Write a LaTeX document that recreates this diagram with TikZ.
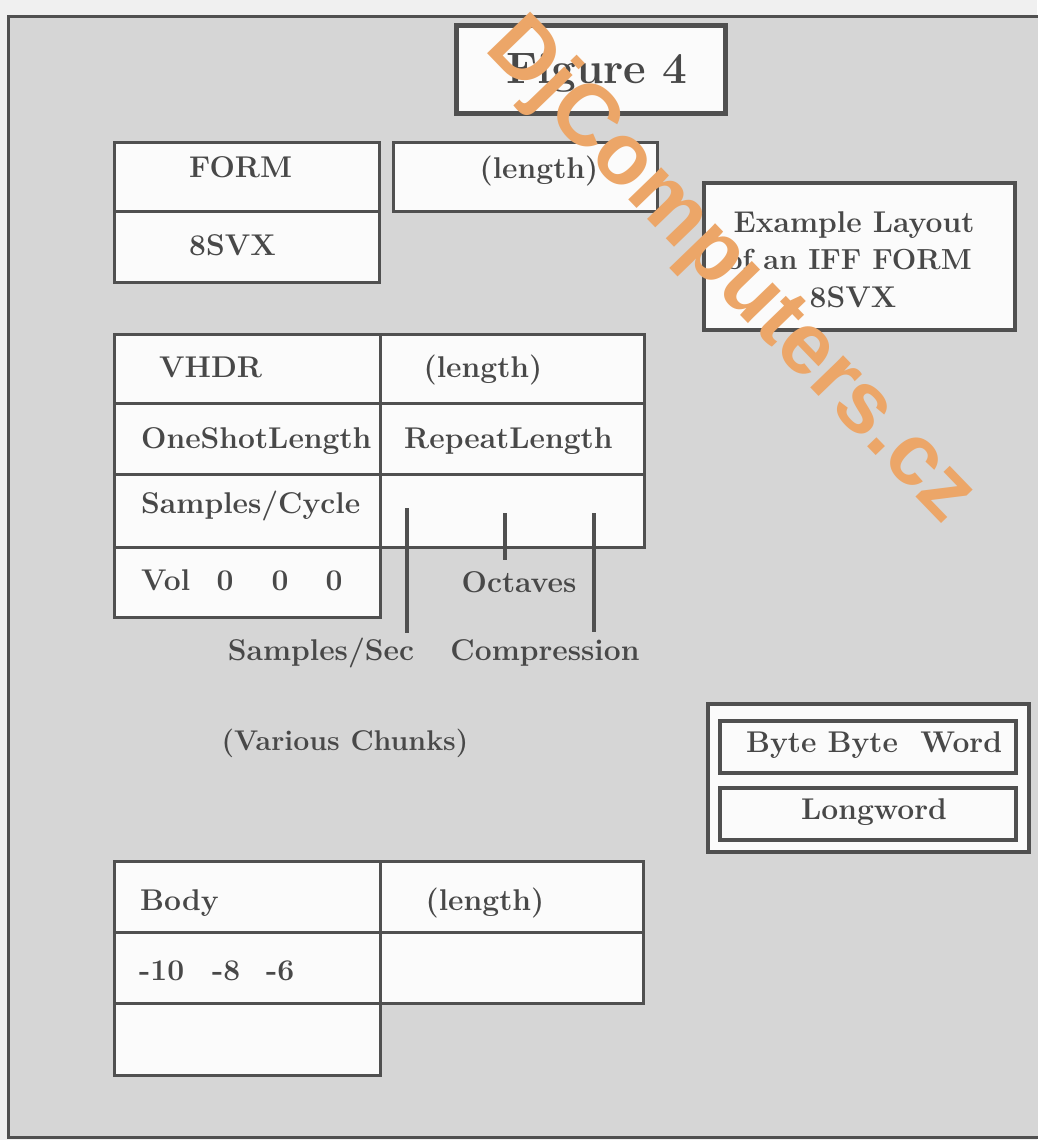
\documentclass[tikz,border=0pt]{standalone}
\usepackage{fontspec}
\newfontfamily\wmfont{Liberation Sans}
\definecolor{bgpage}{RGB}{240,240,240}
\definecolor{bgfig}{RGB}{214,214,214}
\definecolor{boxfill}{RGB}{251,251,251}
\definecolor{ink}{RGB}{72,72,72}
\definecolor{linec}{RGB}{80,80,80}
\definecolor{wmark}{RGB}{236,166,104}
\tikzset{
  cell/.style={fill=boxfill, draw=linec, line width=3pt},
  lbl/.style={inner sep=0pt, text=ink, font=\fontsize{30}{36}\selectfont\bfseries, text height=20pt, text depth=0pt},
  bigl/.style={inner sep=0pt, text=ink, font=\fontsize{44}{50}\selectfont\bfseries, text height=30pt, text depth=0pt},
  tick/.style={draw=linec, line width=4pt},
}
\begin{document}
\begin{tikzpicture}[x=1pt,y=-1pt]
\useasboundingbox (0,0) rectangle (1037,1140);
\fill[bgpage] (0,0) rectangle (1037,1140);
\fill[bgfig] (8,17) rectangle (1040,1137);
\draw[linec, line width=3pt] (1040,17) -- (8,17) -- (8,1137) -- (1040,1137);

% Figure 4 title box
\draw[fill=boxfill, draw=linec, line width=5pt] (456,26) rectangle (725,113);
\node[bigl] (title) at (597,68) {Figure 4};

% FORM / 8SVX
\draw[cell] (114,142) rectangle (379,211);
\draw[cell] (114,211) rectangle (379,282);
\draw[cell] (393,142) rectangle (657,211);
\node[lbl, anchor=west] (form) at (189,167) {FORM};
\node[lbl, anchor=west] (svx) at (189,245) {8SVX};
\node[lbl] (len1) at (539,168) {(length)};

% Example box
\draw[fill=boxfill, draw=linec, line width=4pt] (704,183) rectangle (1015,330);
\node[lbl] (ex1) at (854,222) {Example Layout};
\node[lbl, font=\fontsize{29}{34}\selectfont\bfseries] (ex2) at (849,259) {of an IFF FORM};
\node[lbl] (ex3) at (853,297) {8SVX};

% VHDR table
\draw[cell] (114,334) rectangle (380,403);
\draw[cell] (380,334) rectangle (644,403);
\draw[cell] (114,403) rectangle (380,474);
\draw[cell] (380,403) rectangle (644,474);
\draw[cell] (114,474) rectangle (380,547);
\draw[cell] (380,474) rectangle (644,547);
\draw[cell] (114,547) rectangle (380,617);
\node[lbl, anchor=west] (vhdr) at (159,367) {VHDR};
\node[lbl] (len2) at (483,367) {(length)};
\node[lbl, anchor=west] (osl) at (141,438) {OneShotLength};
\node[lbl, anchor=west] (rpl) at (404,438) {RepeatLength};
\node[lbl, anchor=west] (spc) at (141,503) {Samples/Cycle};
\node[lbl, anchor=west] (vol) at (141,580) {Vol};
\node[lbl] (z1) at (225,580) {0};
\node[lbl] (z2) at (280,580) {0};
\node[lbl] (z3) at (334,580) {0};
\node[lbl] (oct) at (519,582) {Octaves};
\node[lbl] (sps) at (321,650) {Samples/Sec};
\node[lbl] (cmp) at (545,650) {Compression};
\coordinate (t1a) at (407,508);
\coordinate (t1b) at (407,633);
\coordinate (t2a) at (505,513);
\coordinate (t2b) at (505,560);
\coordinate (t3a) at (594,513);
\coordinate (t3b) at (594,632);
\draw[tick] (t1a) -- (t1b);
\draw[tick] (t2a) -- (t2b);
\draw[tick] (t3a) -- (t3b);

% Various chunks
\node[lbl, font=\fontsize{28.5}{34}\selectfont\bfseries] (var) at (345,740) {(Various Chunks)};

% Byte box
\draw[fill=boxfill, draw=linec, line width=3.5pt] (708,704) rectangle (1029,852);
\draw[fill=boxfill, draw=linec, line width=3.5pt] (720,721) rectangle (1016,773);
\draw[fill=boxfill, draw=linec, line width=3.5pt] (720,788) rectangle (1016,840);
\node[lbl] (bbw) at (874,742) {Byte Byte\ \ Word};
\node[lbl] (lw) at (874,809) {Longword};

% Body table
\draw[cell] (114,861) rectangle (380,932);
\draw[cell] (380,861) rectangle (643,932);
\draw[cell] (114,932) rectangle (380,1003);
\draw[cell] (380,932) rectangle (643,1003);
\draw[cell] (114,1003) rectangle (380,1075);
\node[lbl, anchor=west] (body) at (140,900) {Body};
\node[lbl] (len3) at (485,900) {(length)};
\node[lbl, anchor=west] (m10) at (139,970) {-10};
\node[lbl, anchor=west] (m8) at (212,970) {-8};
\node[lbl, anchor=west] (m6) at (266,970) {-6};

% watermark
\node[text=wmark, font=\wmfont\fontsize{87}{87}\selectfont\bfseries, rotate=-46, inner sep=0pt] (wm) at (730,272) {DjComputers.cz};
\end{tikzpicture}
\end{document}
